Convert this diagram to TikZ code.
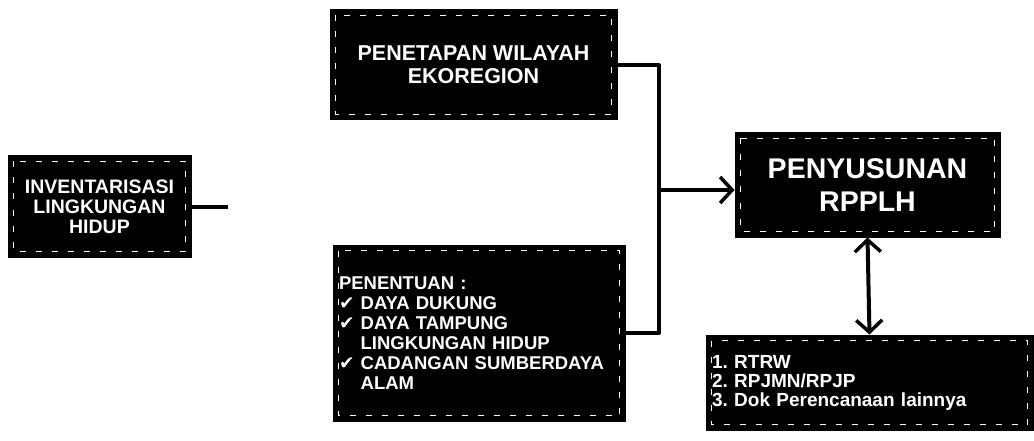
\documentclass[tikz,border=0pt]{standalone}
\usepackage{fontspec}
\setmainfont{Liberation Sans}
\newfontfamily\symfont{DejaVu Sans}
\usetikzlibrary{arrows.meta}
\newcommand{\chk}{{\symfont ✔}\ }
\begin{document}
\begin{tikzpicture}[x=1pt,y=-1pt,
  box/.style={fill=black,draw=black,line width=1pt,text=white,font=\bfseries,inner sep=0pt,align=center},
  inner/.style={draw=white,line width=1pt,dash pattern=on 6pt off 10pt},
  conn/.style={line width=4pt,line join=round},
  tip/.style={-{Straight Barb[length=12pt,width=26pt,line width=3.5pt]}},
  dtip/.style={{Straight Barb[length=12pt,width=26pt,line width=3.5pt]}-{Straight Barb[length=12pt,width=26pt,line width=3.5pt]}}]
\useasboundingbox (0,0) rectangle (1034,441);
\node[box,minimum width=183pt,minimum height=101pt,font=\bfseries\fontsize{19.5}{20}\selectfont] (b1) at (99.5,206.5) {INVENTARISASI\\LINGKUNGAN\\HIDUP};
\node[box,minimum width=287pt,minimum height=110pt,font=\bfseries\fontsize{21.5}{23}\selectfont] (b2) at (473.5,65) {PENETAPAN WILAYAH\\EKOREGION};
\node[box,minimum width=292pt,minimum height=176pt,text width=280pt,align=left,font=\bfseries\fontsize{18.5}{20}\selectfont] (b3) at (479,333) {PENENTUAN :\\\chk DAYA DUKUNG\\\chk DAYA TAMPUNG\\\hphantom{\chk}LINGKUNGAN HIDUP\\\chk CADANGAN SUMBERDAYA\\\hphantom{\chk}ALAM};
\node[box,minimum width=265pt,minimum height=104pt,font=\bfseries\fontsize{28.5}{33}\selectfont] (b4) at (867.5,185) {PENYUSUNAN\\RPPLH};
\node[box,minimum width=327pt,minimum height=95pt,text width=315pt,align=left,font=\bfseries\fontsize{19}{19}\selectfont] (b5) at (869.5,382.5) {1.\ RTRW\\2.\ RPJMN/RPJP\\3.\ Dok Perencanaan lainnya};
\foreach \n in {b1,b2,b3,b4,b5}{
  \draw[inner] ([shift={(6pt,-6pt)}]\n.north west) rectangle ([shift={(-6pt,6pt)}]\n.south east);
}
\coordinate (s1) at (228,206.5);
\coordinate (j) at (659,190);
\draw[conn] (b1.east) -- (s1);
\draw[conn] (b2.east) -| (j);
\draw[conn] (b3.east) -| (j);
\draw[conn,tip] (j) -- (j -| b4.west);
\draw[conn,dtip] (b4.south) -- (b5.north);
\end{tikzpicture}
\end{document}
